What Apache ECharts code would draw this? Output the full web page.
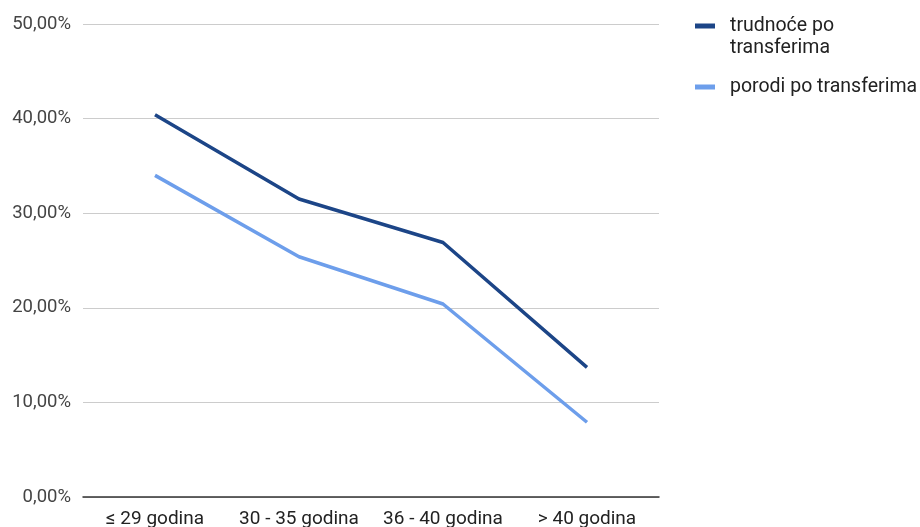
<!DOCTYPE html>
<html>
<head>
<meta charset="utf-8">
<script src="https://cdn.jsdelivr.net/npm/echarts@6/dist/echarts.min.js"></script>
<style>
  html, body { margin: 0; padding: 0; background: #fff; }
  #chart { width: 920px; height: 527px; }
</style>
</head>
<body>
<div id="chart"></div>
<script>
// Age groups on the x axis
const categories = ['≤ 29 godina', '30 - 35 godina', '36 - 40 godina', '> 40 godina'];
// Share of pregnancies per transfer (%)
const trudnoce = [40.4, 31.5, 26.9, 13.7];
// Share of births per transfer (%)
const porodi = [34.0, 25.4, 20.4, 7.9];
const seriesNames = ['trudnoće po transferima', 'porodi po transferima'];
const yTicks = { min: 0, max: 50, interval: 10 };

const font = 'Roboto, "Noto Sans", sans-serif';
const chart = echarts.init(document.getElementById('chart'), null, { renderer: 'canvas' });

const legendText = { fontFamily: font, fontSize: 19.5, color: '#222', lineHeight: 22 };
const legendBase = {
  orient: 'vertical',
  left: 695,
  padding: 0,
  itemWidth: 20,
  itemHeight: 5,
  icon: 'rect',
  selectedMode: false
};

chart.setOption({
  animation: false,
  backgroundColor: '#ffffff',
  textStyle: { fontFamily: font },
  grid: {
    left: 83, right: 261, top: 24, bottom: 30,
    containLabel: false,
    outerBoundsMode: 'none'
  },
  legend: [
    Object.assign({}, legendBase, {
      top: -9,
      data: [seriesNames[0]],
      // a blank first line keeps the icon level with "trudnoće po"
      formatter: () => '\u00a0\ntrudnoće po\ntransferima',
      textStyle: Object.assign({}, legendText, { padding: [4, 0, 0, 10] })
    }),
    Object.assign({}, legendBase, {
      top: 76,
      data: [seriesNames[1]],
      textStyle: Object.assign({}, legendText, { padding: [0, 0, 0, 10] })
    })
  ],
  xAxis: {
    type: 'category',
    data: categories,
    boundaryGap: true,
    axisLine: { lineStyle: { color: '#333', width: 1.5 } },
    axisTick: { show: false },
    axisLabel: { color: '#222', fontSize: 19, fontFamily: font, margin: 13, interval: 0 }
  },
  yAxis: {
    type: 'value',
    min: yTicks.min,
    max: yTicks.max,
    interval: yTicks.interval,
    axisLine: { show: false },
    axisTick: { show: false },
    splitLine: { lineStyle: { color: '#cccccc', width: 1 } },
    axisLabel: {
      color: '#444',
      fontSize: 18.5,
      fontFamily: font,
      margin: 12,
      formatter: v => v.toFixed(2).replace('.', ',') + '%'
    }
  },
  series: [
    {
      name: seriesNames[0],
      type: 'line',
      data: trudnoce,
      showSymbol: false,
      symbol: 'none',
      color: '#1c4587',
      lineStyle: { width: 3.5, color: '#1c4587' }
    },
    {
      name: seriesNames[1],
      type: 'line',
      data: porodi,
      showSymbol: false,
      symbol: 'none',
      color: '#6d9eeb',
      lineStyle: { width: 3.5, color: '#6d9eeb' }
    }
  ]
});
</script>
</body>
</html>
